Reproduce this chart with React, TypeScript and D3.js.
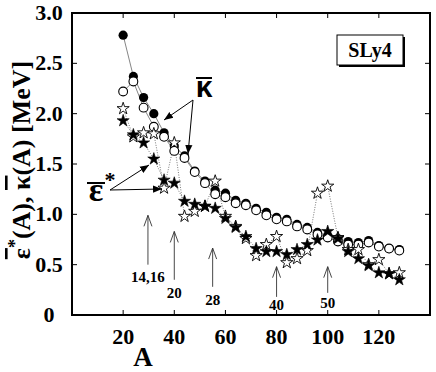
import * as d3 from "d3";

// mass numbers of the nuclei shown
const massA = [20, 24, 28, 32, 36, 40, 44, 48, 52, 56, 60, 64, 68, 72, 76, 80, 84, 88, 92, 96, 100, 104, 108, 112, 116, 120, 124, 128];

// kappa bar, filled circles
const kappaFilled = [2.78, 2.37, 2.16, 2.0, 1.81, 1.68, 1.58, 1.43, 1.33, 1.24, 1.21, 1.14, 1.11, 1.06, 1.02, 0.97, 0.95, 0.9, 0.87, 0.82, 0.79, 0.76, 0.73, 0.72, 0.74, 0.69, 0.66, 0.65];
// kappa bar, open circles
const kappaOpen = [2.22, 2.32, 2.06, 1.87, 1.77, 1.63, 1.56, 1.42, 1.31, 1.2, 1.17, 1.11, 1.09, 1.04, 0.99, 0.95, 0.93, 0.88, 0.85, 0.8, 0.77, 0.73, 0.7, 0.7, 0.72, 0.68, 0.66, 0.64];
// epsilon* bar, filled stars
const epsFilled = [1.93, 1.79, 1.71, 1.55, 1.34, 1.31, 1.13, 1.1, 1.08, 1.06, 0.96, 0.87, 0.78, 0.66, 0.63, 0.63, 0.6, 0.65, 0.7, 0.745, 0.83, 0.76, 0.63, 0.56, 0.49, 0.42, 0.41, 0.35];
// epsilon* bar, open stars
const epsOpen = [2.05, 1.77, 1.81, 1.8, 1.26, 1.71, 0.98, 1.03, 1.08, 1.33, 0.98, 0.88, 0.76, 0.59, 0.7, 0.78, 0.52, 0.56, 0.64, 1.21, 1.28, 0.77, 0.65, 0.65, 0.5, 0.55, 0.41, 0.42];

const xTicks = [20, 40, 60, 80, 100, 120];
const yTicks = [0, 0.5, 1.0, 1.5, 2.0, 2.5, 3.0];
const yTickLabels = ["0", "0.5", "1.0", "1.5", "2.0", "2.5", "3.0"];

// magic-number markers: label, A, arrow top, arrow bottom, label baseline (MeV units)
const magic = [
  { label: "14,16", a: 29.7, top: 0.99, bottom: 0.5, text: 0.33 },
  { label: "20", a: 40, top: 0.83, bottom: 0.35, text: 0.17 },
  { label: "28", a: 55, top: 0.665, bottom: 0.28, text: 0.1 },
  { label: "40", a: 80, top: 0.48, bottom: 0.18, text: 0.05 },
  { label: "50", a: 100, top: 0.48, bottom: 0.22, text: 0.07 },
];

const W = 436;
const H = 372;
const serif = "'Liberation Serif', 'Times New Roman', serif";

export default function App() {
  const x = d3.scaleLinear().domain([0, 140]).range([72, 430]);
  const y = d3.scaleLinear().domain([0, 3]).range([315, 13]);

  const pts = (vals: number[]) => massA.map((a, i) => [x(a), y(vals[i])] as [number, number]);
  const line = d3.line();
  const star = d3.symbol().type(d3.symbolStar).size(46)() as string;

  const [x0, x1] = x.range();
  const [yb, yt] = y.range();

  return (
    <svg width={W} height={H} style={{ position: "absolute", left: 0, top: 0, background: "#fff" }} fontFamily={serif}>
      <defs>
        <marker id="ah" viewBox="0 0 10 10" refX="10" refY="5" markerWidth="9" markerHeight="9" markerUnits="userSpaceOnUse" orient="auto">
          <path d="M0,1 L10,5 L0,9 Z" fill="#000" />
        </marker>
      </defs>

      {/* connecting lines */}
      <path d={line(pts(kappaFilled)) || ""} fill="none" stroke="#666" strokeWidth={0.8} />
      <path d={line(pts(kappaOpen)) || ""} fill="none" stroke="#666" strokeWidth={0.8} />
      <path d={line(pts(epsOpen)) || ""} fill="none" stroke="#555" strokeWidth={0.8} strokeDasharray="1,1.5" />
      <path d={line(pts(epsFilled)) || ""} fill="none" stroke="#555" strokeWidth={0.8} strokeDasharray="1,1.5" />

      {/* markers */}
      {pts(kappaFilled).map(([px, py], i) => (
        <circle key={"kf" + i} cx={px} cy={py} r={4.6} fill="#000" />
      ))}
      {pts(kappaOpen).map(([px, py], i) => (
        <circle key={"ko" + i} cx={px} cy={py} r={4.4} fill="#fff" stroke="#000" strokeWidth={1.1} />
      ))}
      {pts(epsOpen).map(([px, py], i) => (
        <path key={"eo" + i} d={star} transform={`translate(${px},${py})`} fill="#fff" stroke="#000" strokeWidth={0.9} />
      ))}
      {pts(epsFilled).map(([px, py], i) => (
        <path key={"ef" + i} d={star} transform={`translate(${px},${py})`} fill="#000" stroke="#000" strokeWidth={0.6} />
      ))}

      {/* magic number arrows */}
      {magic.map((m) => {
        const mx = x(m.a);
        const t = y(m.top);
        return (
          <g key={m.label}>
            <line x1={mx} x2={mx} y1={y(m.bottom)} y2={t} stroke="#333" strokeWidth={0.9} />
            <path d={`M${mx - 4},${t + 11} L${mx},${t} L${mx + 4},${t + 11}`} fill="none" stroke="#333" strokeWidth={0.9} />
            <text x={mx} y={y(m.text)} textAnchor="middle" fontSize={15} fontWeight="bold">{m.label}</text>
          </g>
        );
      })}

      {/* kappa label */}
      <text x={204} y={97} textAnchor="middle" fontSize={30} fontWeight="bold" fontFamily="'Liberation Sans', Arial, sans-serif">κ</text>
      <line x1={196} x2={212} y1={78} y2={78} stroke="#000" strokeWidth={2} />
      <line x1={193} y1={100} x2={164} y2={120} stroke="#000" strokeWidth={1} markerEnd="url(#ah)" />
      <line x1={193} y1={100} x2={188} y2={154} stroke="#000" strokeWidth={1} markerEnd="url(#ah)" />

      {/* epsilon label */}
      <text x={96} y={201} textAnchor="middle" fontSize={34} fontWeight="bold">ε</text>
      <line x1={87} x2={105} y1={183} y2={183} stroke="#000" strokeWidth={2} />
      <text x={110} y={187} textAnchor="middle" fontSize={22} fontWeight="bold">*</text>
      <line x1={110} y1={190} x2={149} y2={165} stroke="#000" strokeWidth={1} markerEnd="url(#ah)" />
      <line x1={110} y1={190} x2={162} y2={189} stroke="#000" strokeWidth={1} markerEnd="url(#ah)" />

      {/* SLy4 box */}
      <rect x={339} y={37} width={66} height={30} fill="#000" />
      <rect x={337} y={35} width={66} height={30} fill="#fff" stroke="#000" strokeWidth={1} />
      <text x={370} y={57} textAnchor="middle" fontSize={20} fontWeight="bold">SLy4</text>

      {/* ticks */}
      {xTicks.map((t) => (
        <g key={"xt" + t}>
          <line x1={x(t)} x2={x(t)} y1={yb} y2={yb - 5} stroke="#000" strokeWidth={1} />
          <line x1={x(t)} x2={x(t)} y1={yt} y2={yt + 5} stroke="#000" strokeWidth={1} />
          <text x={x(t)} y={344} textAnchor="middle" fontSize={22} fontWeight="bold">{t}</text>
        </g>
      ))}
      {yTicks.map((t, i) => (
        <g key={"yt" + t}>
          <line x1={x0} x2={x0 + 5} y1={y(t)} y2={y(t)} stroke="#000" strokeWidth={1} />
          <line x1={x1} x2={x1 - 5} y1={y(t)} y2={y(t)} stroke="#000" strokeWidth={1} />
          <text x={49} y={y(t) + 7} textAnchor="middle" fontSize={22} fontWeight="bold">{yTickLabels[i]}</text>
        </g>
      ))}

      {/* frame */}
      <rect x={x0} y={yt} width={x1 - x0} height={yb - yt} fill="none" stroke="#000" strokeWidth={2} />

      {/* axis titles */}
      <text x={143} y={366} textAnchor="middle" fontSize={27} fontWeight="bold">A</text>
      <text transform="translate(30,160) rotate(-90)" textAnchor="middle" fontSize={26} fontWeight="bold">
        <tspan textDecoration="overline">ε</tspan>
        <tspan dy={-9} fontSize={18}>*</tspan>
        <tspan dy={9}>(A),   </tspan>
        <tspan textDecoration="overline">κ</tspan>
        <tspan>(A) [MeV]</tspan>
      </text>
    </svg>
  );
}
